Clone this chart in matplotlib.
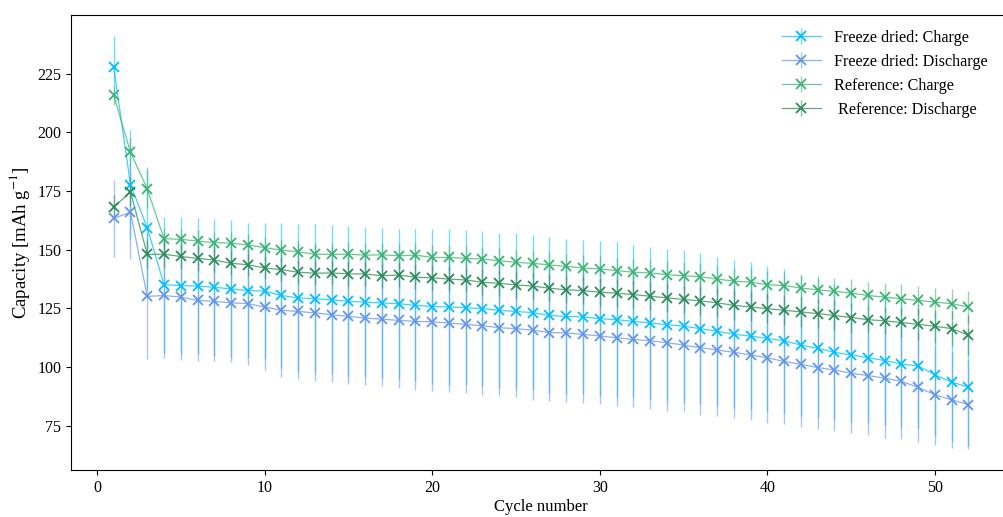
import numpy as np
import matplotlib
matplotlib.use("Agg")
import matplotlib.pyplot as plt
from matplotlib.colors import to_rgba

plt.rcParams['font.family'] = ['Liberation Serif', 'DejaVu Serif']
plt.rcParams['mathtext.fontset'] = 'stix'
plt.rcParams['font.size'] = 11.5

cycles = list(range(1, 53))

fd_charge = [227.7, 177.7, 159.4, 135.1, 134.7, 134.5, 134.0, 133.3, 132.6, 132.4,
             130.5, 129.5, 129.1, 128.7, 128.0, 127.7, 127.3, 127.0, 126.3, 125.8,
             125.6, 125.3, 124.9, 124.2, 123.7, 123.2, 122.0, 121.6, 121.4, 120.6,
             120.2, 119.5, 118.8, 118.1, 117.4, 116.4, 115.3, 114.0, 113.2, 112.2,
             111.2, 109.4, 108.0, 106.3, 105.2, 104.0, 102.8, 101.3, 100.5, 96.7,
             93.6, 91.5]
fd_charge_err = [13.4, 23.2, 26.0, 28.9, 29.2, 29.1, 29.2, 29.2, 28.9, 29.1,
                 31.0, 31.6, 31.7, 31.8, 32.2, 32.1, 32.1, 32.0, 32.4, 32.9,
                 33.1, 32.9, 33.1, 33.1, 33.2, 32.9, 33.2, 33.1, 32.8, 33.1,
                 32.9, 32.4, 32.4, 32.4, 32.5, 32.1, 31.7, 31.6, 31.4, 31.0,
                 30.6, 30.0, 29.5, 29.0, 28.5, 28.0, 27.5, 27.0, 26.5, 26.0,
                 25.5, 25.0]

fd_discharge = [163.3, 166.0, 130.1, 130.5, 129.8, 128.4, 128.0, 127.4, 127.0, 125.6,
                124.2, 123.7, 123.1, 122.3, 121.6, 120.9, 120.4, 119.9, 119.5, 119.3,
                118.8, 118.2, 117.6, 116.8, 116.4, 115.7, 114.7, 114.6, 113.9, 113.3,
                112.5, 111.8, 111.2, 110.4, 109.4, 108.3, 107.3, 106.3, 105.2, 104.0,
                102.4, 101.2, 99.8, 98.8, 97.4, 96.4, 95.3, 93.9, 91.4, 88.2,
                86.1, 84.0]
fd_discharge_err = [16.5, 20.0, 26.8, 26.8, 26.8, 25.6, 25.6, 25.4, 26.1, 26.8,
                    28.2, 28.7, 28.8, 28.7, 28.9, 28.7, 28.6, 28.8, 29.1, 29.4,
                    29.4, 29.2, 29.4, 29.0, 29.1, 29.6, 29.2, 29.4, 29.2, 29.0,
                    28.9, 28.9, 29.0, 28.9, 28.6, 28.5, 28.2, 27.9, 27.9, 27.7,
                    26.8, 26.6, 26.3, 26.0, 25.6, 25.3, 25.3, 24.7, 23.3, 21.3,
                    20.4, 19.0]

ref_charge = [215.7, 191.5, 175.9, 154.7, 154.4, 153.7, 153.0, 152.8, 152.0, 150.9,
              149.8, 149.1, 148.1, 148.0, 148.1, 147.7, 147.8, 147.4, 147.7, 146.7,
              146.7, 146.3, 146.0, 145.3, 144.6, 144.2, 143.5, 142.9, 142.2, 141.8,
              141.1, 140.4, 140.1, 139.4, 138.9, 138.5, 137.5, 136.6, 136.2, 135.1,
              134.7, 133.7, 132.9, 132.3, 131.5, 130.5, 129.8, 129.1, 128.4, 127.7,
              127.0, 125.6]
ref_charge_err = [4.0, 6.0, 8.0, 4.5, 4.6, 4.6, 4.6, 4.6, 4.6, 4.7,
                  4.8, 4.8, 4.9, 4.9, 5.0, 5.0, 5.0, 5.1, 5.1, 5.2,
                  5.2, 5.2, 5.3, 5.3, 5.3, 5.4, 5.4, 5.4, 5.5, 5.5,
                  5.5, 5.6, 5.6, 5.6, 5.7, 5.7, 5.7, 5.8, 5.8, 5.8,
                  5.9, 5.5, 5.7, 5.8, 5.9, 5.9, 6.1, 6.3, 6.3, 6.0,
                  6.3, 6.8]

ref_discharge = [168.1, 174.6, 148.0, 148.1, 147.1, 146.3, 145.6, 144.2, 143.6, 142.2,
                 141.5, 140.4, 140.0, 140.1, 139.7, 139.7, 138.9, 139.2, 138.3, 138.0,
                 137.5, 137.1, 136.1, 135.7, 135.0, 134.5, 133.6, 132.9, 132.6, 131.9,
                 131.5, 130.9, 130.2, 129.5, 128.8, 128.2, 127.4, 126.3, 125.6, 124.9,
                 124.2, 123.5, 122.8, 122.0, 121.1, 120.2, 119.7, 119.0, 118.2, 117.4,
                 116.4, 113.6]
ref_discharge_err = [5.0, 6.0, 6.0, 5.6, 5.5, 5.4, 5.3, 5.0, 4.6, 4.7,
                     4.8, 4.8, 4.9, 4.9, 5.0, 5.0, 5.0, 5.1, 5.1, 5.2,
                     5.2, 5.3, 5.3, 5.4, 5.4, 5.5, 5.5, 5.6, 5.6, 5.7,
                     5.7, 5.8, 5.8, 5.9, 5.9, 6.0, 6.0, 6.1, 6.1, 6.2,
                     6.2, 6.3, 6.3, 6.4, 6.4, 5.2, 5.5, 6.0, 6.5, 7.0,
                     7.5, 8.5]

series = [
    (fd_charge, fd_charge_err, 'Freeze dried: Charge', 'deepskyblue'),
    (fd_discharge, fd_discharge_err, 'Freeze dried: Discharge', 'cornflowerblue'),
    (ref_charge, ref_charge_err, 'Reference: Charge', 'mediumseagreen'),
    (ref_discharge, ref_discharge_err, ' Reference: Discharge', 'seagreen'),
]

fig = plt.figure(figsize=(10.04, 5.17), dpi=100)
ax = fig.add_axes([0.0707, 0.0909, 0.9365, 0.880])

for vals, errs, label, col in series:
    ax.errorbar(cycles, vals, yerr=errs, fmt='-x', color=to_rgba(col, 0.75),
                markeredgecolor=col, markersize=7, markeredgewidth=1.3,
                linewidth=0.9, ecolor=to_rgba(col, 0.55), elinewidth=1.0,
                capsize=0, label=label)

ax.set_xlim(-1.55, 54.55)
ax.set_xticks([0, 10, 20, 30, 40, 50])
ax.set_yticks([75, 100, 125, 150, 175, 200, 225])
ax.set_xlabel('Cycle number', fontsize=12, labelpad=2)
ax.set_ylabel('Capacity [mAh g$^{-1}$]', fontsize=13.5, labelpad=4)
ax.legend(loc='upper right', frameon=False, bbox_to_anchor=(0.99, 1.0),
          fontsize=11.6, handlelength=2.4)

fig.savefig('out.png', dpi=100)
